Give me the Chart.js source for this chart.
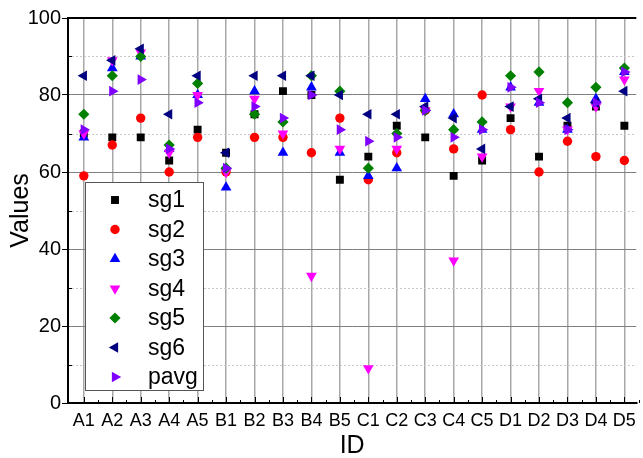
<!DOCTYPE html>
<html>
<head>
<meta charset="utf-8">
<script src="https://cdn.jsdelivr.net/npm/chart.js@4"></script>
<style>
  html, body { margin: 0; padding: 0; background: #fff; overflow: hidden; }
  #wrap { width: 643px; height: 458px; }
</style>
</head>
<body>
<div id="wrap"><canvas id="chart" width="643" height="458"></canvas></div>
<script>
const ids = ['A1','A2','A3','A4','A5','B1','B2','B3','B4','B5','C1','C2','C3','C4','C5','D1','D2','D3','D4','D5'];

const sg1  = [70, 69, 69, 63, 71, 65, 75, 81, 80, 58, 64, 72, 69, 59, 63, 74, 64, 72, 77, 72];
const sg2  = [59, 67, 74, 60, 69, 60, 69, 69, 65, 74, 58, 65, 76, 66, 80, 71, 60, 68, 64, 63];
const sg3  = [69, 87, 90, 66, 80, 56, 81, 65, 82, 65, 59, 61, 79, 75, 71, 82, 78, 71, 79, 86];
const sg4  = [70, 89, 91, 65, 80, 60, 79, 70, 33, 66,  9, 66, 76, 37, 64, 77, 81, 71, 77, 84];
const sg5  = [75, 85, 90, 67, 83, 61, 75, 73, 85, 81, 61, 70, 76, 71, 73, 85, 86, 78, 82, 87];
const sg6  = [85, 89, 92, 75, 85, 65, 85, 85, 85, 80, 75, 75, 77, 74, 66, 77, 79, 74, 78, 81];
const pavg = [71, 81, 84, 66, 78, 61, 77, 74, 80, 71, 68, 69, 76, 69, 71, 82, 78, 71, 78, 86];

const yTicks = [0, 20, 40, 60, 80, 100];
const yMinor = [10, 30, 50, 70, 90];

const FONT = '"Liberation Sans", Arial, sans-serif';

function pts(values) {
    return values.map((v, i) => ({ x: i, y: v }));
}

const series = [
    { label: 'sg1',  data: sg1,  color: '#000000', style: 'rect',     rot: 0,   r: 5.6 },
    { label: 'sg2',  data: sg2,  color: '#ff0000', style: 'circle',   rot: 0,   r: 4.7 },
    { label: 'sg3',  data: sg3,  color: '#0000ff', style: 'triangle', rot: 0,   r: 6.2 },
    { label: 'sg4',  data: sg4,  color: '#ff00ff', style: 'triangle', rot: 180, r: 6.2 },
    { label: 'sg5',  data: sg5,  color: '#008000', style: 'rectRot',  rot: 0,   r: 5.6 },
    { label: 'sg6',  data: sg6,  color: '#000080', style: 'triangle', rot: 270, r: 6.2 },
    { label: 'pavg', data: pavg, color: '#8000ff', style: 'triangle', rot: 90,  r: 6.2 },
];

// minor grid, inward ticks, top frame and the boxed legend
const extras = {
    id: 'extras',
    beforeDatasetsDraw(chart) {
        const ctx = chart.ctx;
        const a = chart.chartArea;
        const x = chart.scales.x, y = chart.scales.y;
        ctx.save();
        ctx.strokeStyle = '#c8c8c8';
        ctx.lineWidth = 1;
        ctx.setLineDash([2, 2]);
        yMinor.forEach(v => {
            const py = Math.round(y.getPixelForValue(v)) + 0.5;
            ctx.beginPath();
            ctx.moveTo(a.left, py);
            ctx.lineTo(a.right, py);
            ctx.stroke();
        });
        ctx.setLineDash([]);
        ctx.strokeStyle = '#000';
        yMinor.forEach(v => {
            const py = Math.round(y.getPixelForValue(v)) + 0.5;
            ctx.beginPath();
            ctx.moveTo(a.left, py);
            ctx.lineTo(a.left + 4, py);
            ctx.stroke();
        });
        ids.forEach((id, i) => {
            let px = Math.round(x.getPixelForValue(i)) + 0.5;
            ctx.beginPath();
            ctx.moveTo(px, a.bottom);
            ctx.lineTo(px, a.bottom - 6);
            ctx.stroke();
            px = Math.round(x.getPixelForValue(i + 0.5)) + 0.5;
            ctx.beginPath();
            ctx.moveTo(px, a.bottom);
            ctx.lineTo(px, a.bottom - 3);
            ctx.stroke();
        });
        ctx.lineWidth = 2;
        ctx.beginPath();
        ctx.moveTo(a.left - 1, a.top);
        ctx.lineTo(a.right, a.top);
        ctx.stroke();
        ctx.restore();
    },
    afterDraw(chart) {
        const ctx = chart.ctx;
        ctx.save();
        ctx.fillStyle = '#fff';
        ctx.fillRect(85, 182, 118, 208);
        ctx.strokeStyle = '#555';
        ctx.lineWidth = 1;
        ctx.strokeRect(85.5, 182.5, 118, 208);
        ctx.font = '23px ' + FONT;
        ctx.textBaseline = 'middle';
        series.forEach((s, i) => {
            const cy = 200 + i * 29.5;
            ctx.fillStyle = s.color;
            Chart.helpers.drawPoint(ctx, { pointStyle: s.style, rotation: s.rot, radius: s.r, borderWidth: 0 }, 115, cy);
            ctx.fillStyle = '#000';
            ctx.fillText(s.label, 148, cy + 1);
        });
        ctx.restore();
    }
};

new Chart(document.getElementById('chart'), {
    type: 'scatter',
    data: {
        datasets: series.map((s, i) => ({
            label: s.label,
            data: pts(s.data),
            backgroundColor: s.color,
            borderColor: s.color,
            borderWidth: 0,
            pointStyle: s.style,
            pointRotation: s.rot,
            pointRadius: s.r,
            pointHoverRadius: s.r,
            order: series.length - i
        }))
    },
    options: {
        responsive: false,
        animation: false,
        events: [],
        layout: { padding: { top: 18, right: 0, left: 0, bottom: 0 } },
        plugins: {
            legend: { display: false },
            tooltip: { enabled: false }
        },
        scales: {
            x: {
                type: 'linear',
                min: -0.556,
                max: 19.42,
                afterFit(scale) { scale.height = 55; },
                grid: {
                    color: '#a8a8a8',
                    lineWidth: 1.5,
                    drawTicks: false
                },
                border: { color: '#000', width: 2 },
                ticks: {
                    stepSize: 1,
                    includeBounds: false,
                    autoSkip: false,
                    maxRotation: 0,
                    padding: 7,
                    color: '#000',
                    font: { family: FONT, size: 18 },
                    callback: v => ids[v]
                },
                title: {
                    display: true,
                    text: 'ID',
                    color: '#000',
                    font: { family: FONT, size: 25 },
                    padding: { top: 0, bottom: -3 }
                }
            },
            y: {
                min: 0,
                max: 100,
                afterFit(scale) { scale.width = 68; },
                afterBuildTicks(scale) { scale.ticks = yTicks.map(v => ({ value: v })); },
                grid: {
                    color: ctx => (ctx.tick.value === 0 || ctx.tick.value === 100) ? 'rgba(0,0,0,0)' : '#808080',
                    lineWidth: 1,
                    tickColor: '#000',
                    tickLength: 6
                },
                border: { color: '#000', width: 2 },
                ticks: {
                    padding: 1,
                    color: '#000',
                    font: { family: FONT, size: 20 }
                },
                title: {
                    display: true,
                    text: 'Values',
                    color: '#000',
                    font: { family: FONT, size: 25 },
                    padding: { top: 6, bottom: 0 }
                }
            }
        }
    },
    plugins: [extras]
});
</script>
</body>
</html>
